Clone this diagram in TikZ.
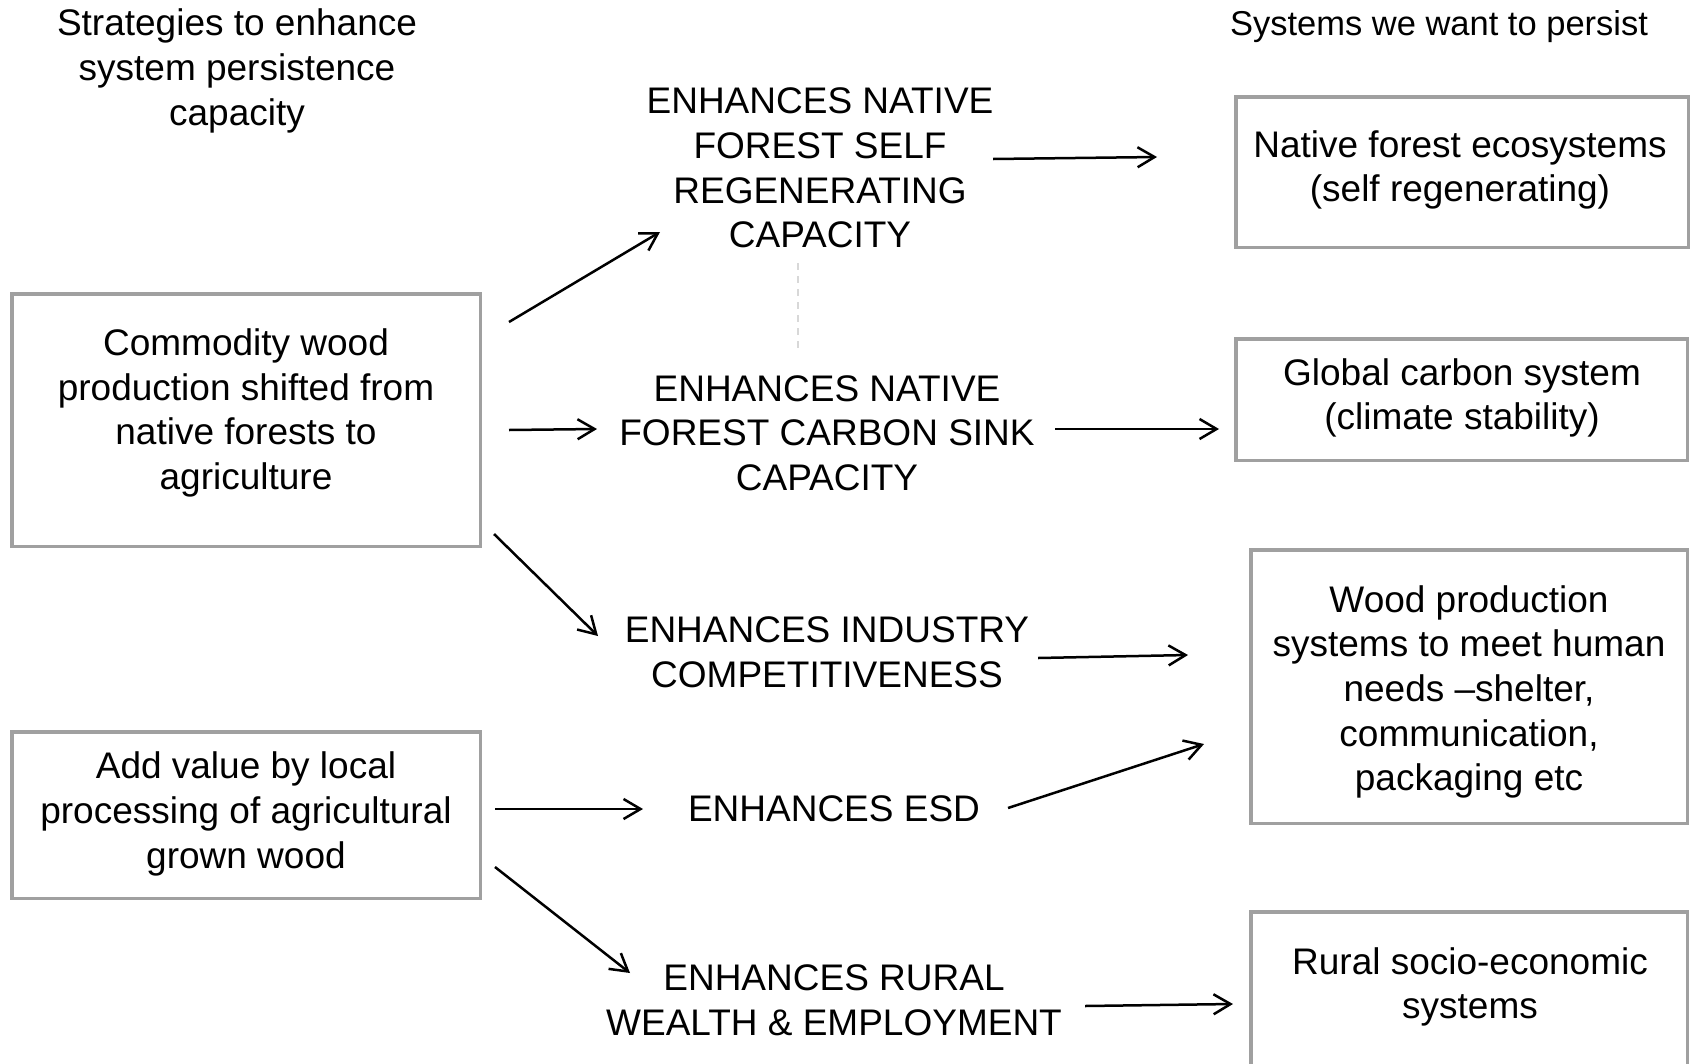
\documentclass[tikz,border=0pt]{standalone}
\usepackage{fontspec}
\setmainfont{Liberation Sans}
\usetikzlibrary{arrows.meta}
\definecolor{boxgray}{HTML}{A0A0A0}
\definecolor{dashgray}{HTML}{D8D8D8}
\begin{document}
\begin{tikzpicture}[x=1pt,y=-1pt,
  txt/.style={align=center,inner sep=0pt,font=\fontsize{37}{44.7}\selectfont},
  sysbox/.style={draw=boxgray,line width=3.5pt,fill=white,inner sep=0pt},
  conn/.style={line width=2.5pt,-{Straight Barb[length=17pt,width=20pt,line width=2.5pt]}}]
\useasboundingbox (0,0) rectangle (1696,1063);
\clip (0,0) rectangle (1696,1063);

% headings
\node[txt] (hl) at (237,71) {Strategies to enhance\\system persistence\\capacity};
\node[txt,font=\fontsize{34.5}{41}\selectfont] (hr) at (1439,27) {Systems we want to persist};

% left boxes
\node[sysbox,minimum width=468.5pt,minimum height=252.5pt] (b1) at (246,420) {};
\node[txt] (t1) at (246,413) {Commodity wood\\production shifted from\\native forests to\\agriculture};
\node[sysbox,minimum width=468.5pt,minimum height=166.5pt] (b2) at (246,815) {};
\node[txt] (t2) at (246,814) {Add value by local\\processing of agricultural\\grown wood};

% right boxes
\node[sysbox,minimum width=452.5pt,minimum height=150.5pt] (r1) at (1462,172) {};
\node[txt] (s1) at (1460,170) {Native forest ecosystems\\(self regenerating)};
\node[sysbox,minimum width=451.5pt,minimum height=121.5pt] (r2) at (1461.5,399.5) {};
\node[txt] (s2) at (1462,398) {Global carbon system\\(climate stability)};
\node[sysbox,minimum width=436.5pt,minimum height=273.5pt] (r3) at (1469,686.5) {};
\node[txt] (s3) at (1469,692) {Wood production\\systems to meet human\\needs --shelter,\\communication,\\packaging etc};
\node[sysbox,minimum width=436.5pt,minimum height=188.5pt] (r4) at (1469,1006) {};
\node[txt] (s4) at (1470,987) {Rural socio-economic\\systems};

% middle effects
\node[txt] (m1) at (820,168) {ENHANCES NATIVE\\FOREST SELF\\REGENERATING\\CAPACITY};
\node[txt] (m2) at (827,433) {ENHANCES NATIVE\\FOREST CARBON SINK\\CAPACITY};
\node[txt] (m3) at (827,652) {ENHANCES INDUSTRY\\COMPETITIVENESS};
\node[txt] (m4) at (834,809) {ENHANCES ESD};
\node[txt] (m5) at (834,1000) {ENHANCES RURAL\\WEALTH \& EMPLOYMENT};

% connector end points
\coordinate (a1s) at (509,322); \coordinate (a1e) at (660,232);
\coordinate (a2s) at (509,430); \coordinate (a2e) at (597,429);
\coordinate (a3s) at (494,534); \coordinate (a3e) at (598,636);
\coordinate (a4s) at (993,159); \coordinate (a4e) at (1157,157);
\coordinate (a5s) at (1055,429); \coordinate (a5e) at (1219,429);
\coordinate (a6s) at (1038,658); \coordinate (a6e) at (1188,655);
\coordinate (a7s) at (495,809); \coordinate (a7e) at (643,809);
\coordinate (a8s) at (1008,808); \coordinate (a8e) at (1204,744);
\coordinate (a9s) at (495,867); \coordinate (a9e) at (630,973);
\coordinate (a10s) at (1085,1006); \coordinate (a10e) at (1233,1004);
\coordinate (d1) at (798,263); \coordinate (d2) at (798,354);

\draw[conn] (a1s) -- (a1e);
\draw[conn] (a2s) -- (a2e);
\draw[conn] (a3s) -- (a3e);
\draw[conn] (a4s) -- (a4e);
\draw[conn] (a5s) -- (a5e);
\draw[conn] (a6s) -- (a6e);
\draw[conn] (a7s) -- (a7e);
\draw[conn] (a8s) -- (a8e);
\draw[conn] (a9s) -- (a9e);
\draw[conn] (a10s) -- (a10e);
\draw[dashgray,line width=1.5pt,dash pattern=on 7pt off 6pt] (d1) -- (d2);
\end{tikzpicture}
\end{document}
